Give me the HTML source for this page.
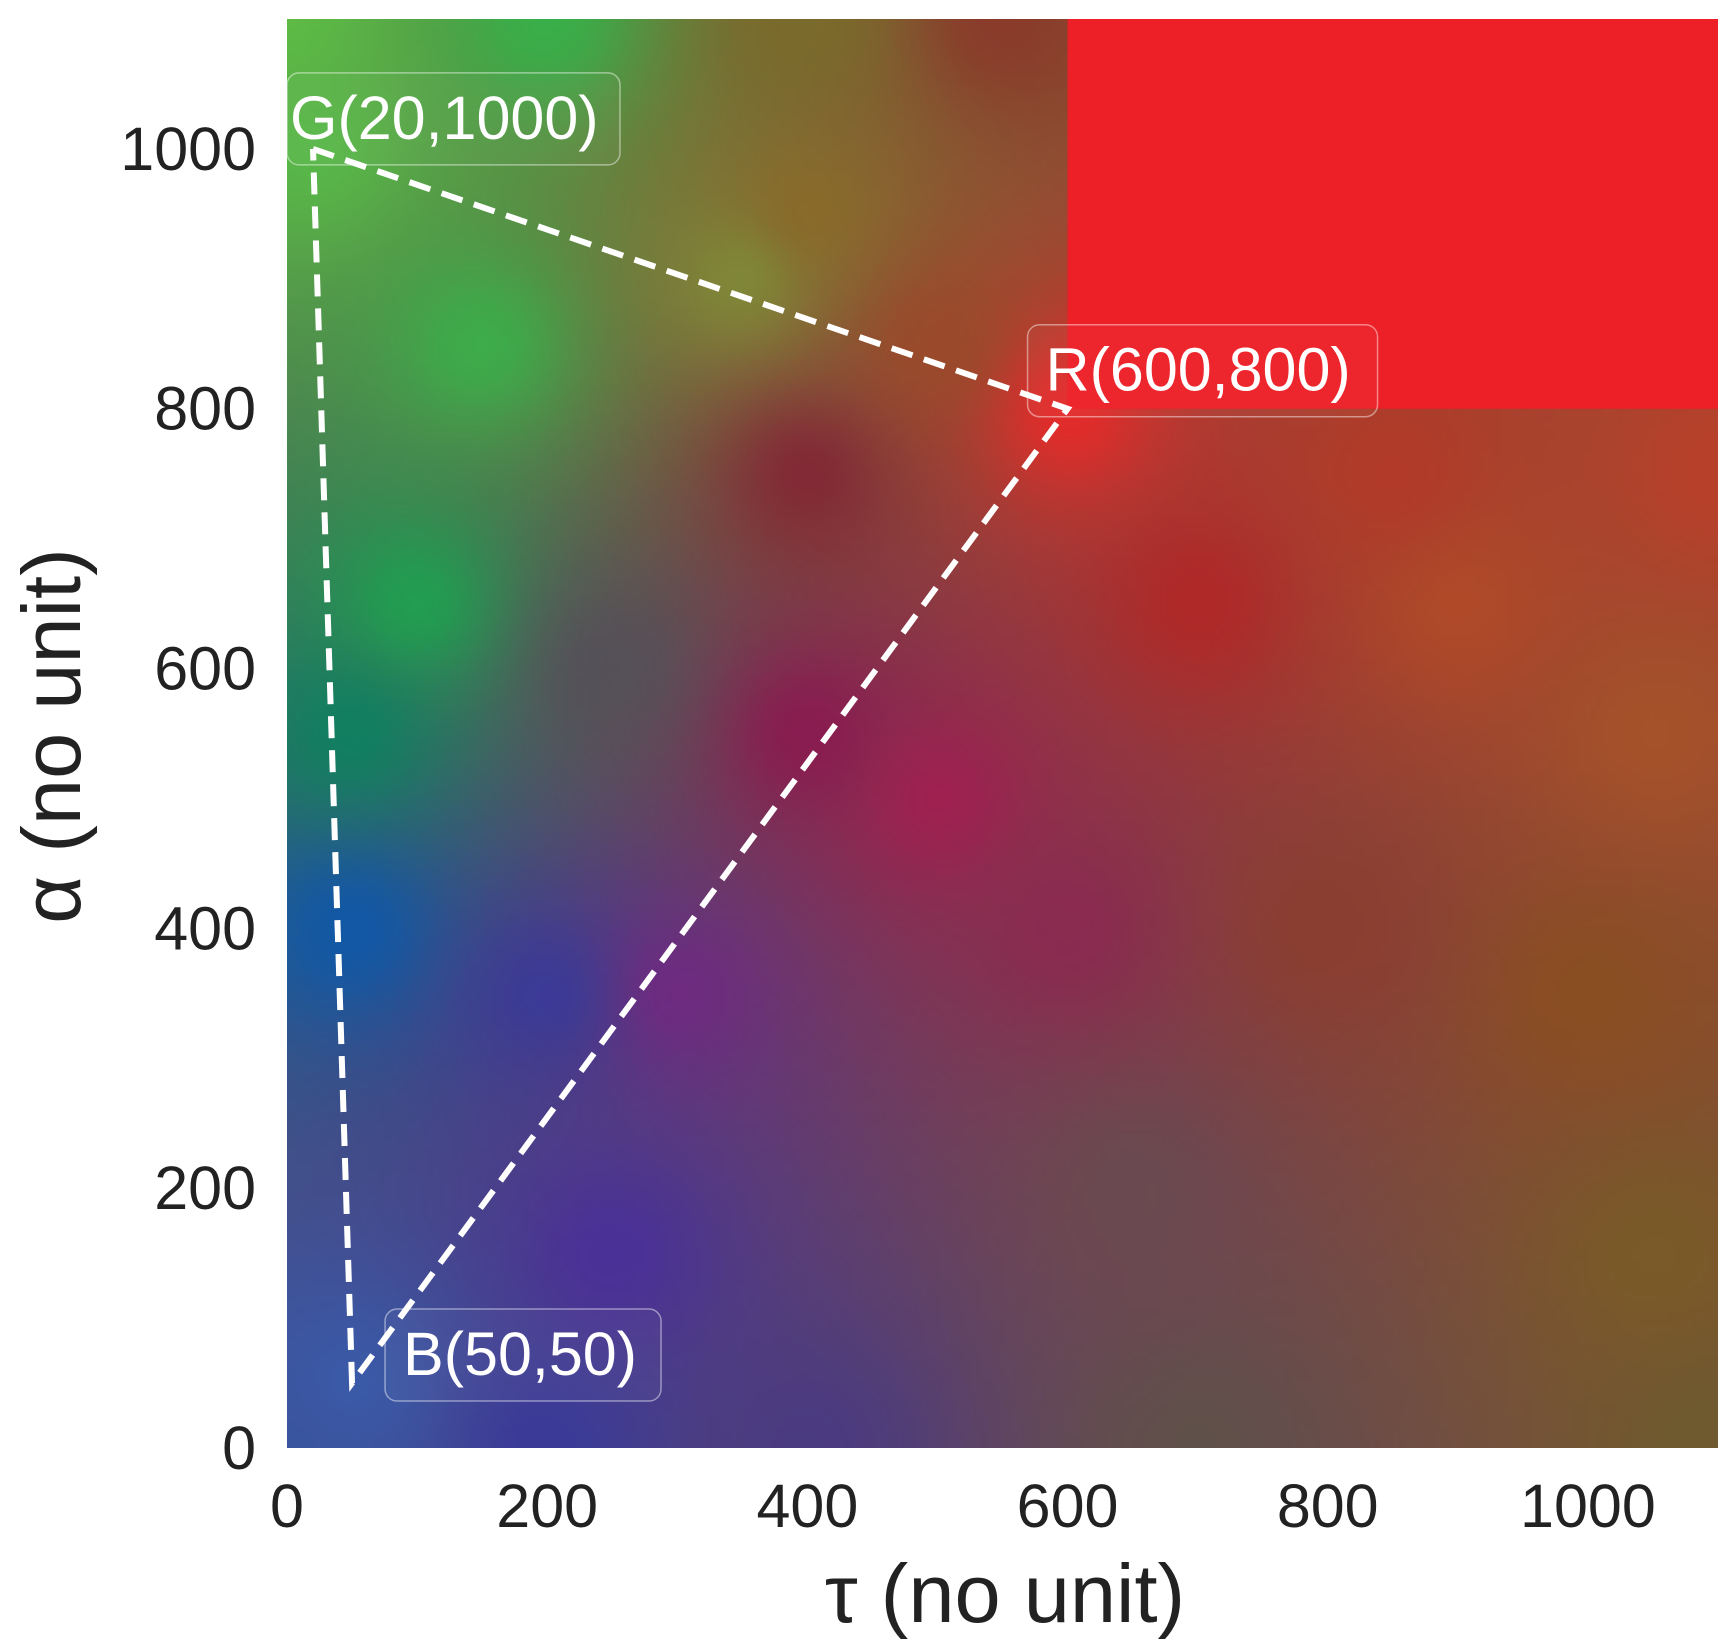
<!DOCTYPE html>
<html><head><meta charset="utf-8">
<style>
html,body{margin:0;padding:0;background:#fff;}
#wrap{position:relative;width:1736px;height:1652px;overflow:hidden;font-family:"Liberation Sans",sans-serif;}
canvas{position:absolute;}
svg{position:absolute;left:0;top:0;}
</style></head>
<body>
<div id="wrap">
<canvas id="field"></canvas>
<svg id="svg" width="1736" height="1652"></svg>
</div>
<script>
// sampled colour field (tau, alpha, colour)
const sampleTau   = [0,200,400,550,20,150,350,400,500,600,400,100,50,250,400,50,200,300,500,700,900,1050,1000,800,650,1050,1100,700,400,200,0,50,250,600,1100,850];
const sampleAlpha = [1100,1100,1100,1100,1000,850,900,950,850,800,750,650,550,600,550,400,350,350,500,650,650,550,350,400,200,150,0,0,0,0,0,50,150,400,750,750];
const sampleColor = ["#5cbb45","#38b04a","#7a6a2a","#8a3a2a","#58b848","#3cae4a","#808a38","#8a6a2a","#9a4a2a","#e82a2a","#822835","#20a050","#108060","#555058","#8a1a50","#1058a8","#3a3a98","#702a80","#a02050","#b02828","#b04a28","#a5522a","#8a4e22","#8a3e30","#6a4a50","#7a5a28","#6e5a2e","#60504a","#4a3a80","#3a3a98","#3a55a0","#3a5aa8","#4a3098","#8a2a50","#b8402a","#b23a28"];
// triangle vertices
const ptNames = ["G(20,1000)","R(600,800)","B(50,50)"];
const ptTau   = [20,600,50];
const ptAlpha = [1000,800,50];
const xTicks = [0,200,400,600,800,1000];
const yTicks = [0,200,400,600,800,1000];
// saturated red region
const redTau0 = 600, redAlpha0 = 800;

const X0=287,X1=1718,Y0=1448,Y1=19,MAX=1100;
const sx=v=>X0+v/MAX*(X1-X0);
const sy=v=>Y0-v/MAX*(Y0-Y1);
const NS="http://www.w3.org/2000/svg";
const svg=document.getElementById('svg');
function mk(tag,attrs,parent){const e=document.createElementNS(NS,tag);for(const k in attrs)e.setAttribute(k,attrs[k]);(parent||svg).appendChild(e);return e;}
function hex(c){return [parseInt(c.substr(1,2),16),parseInt(c.substr(3,2),16),parseInt(c.substr(5,2),16)];}

// field
const cv=document.getElementById('field');
const W=X1-X0,H=Y0-Y1;
cv.width=W;cv.height=H;cv.style.left=X0+'px';cv.style.top=Y1+'px';
const N=240;
const sm=document.createElement('canvas');sm.width=N;sm.height=N;
const sctx=sm.getContext('2d');const img=sctx.createImageData(N,N);
const cols=sampleColor.map(hex);
for(let j=0;j<N;j++){for(let i=0;i<N;i++){
  const t=(i+0.5)/N*MAX,a=MAX-(j+0.5)/N*MAX;
  let ws=0,r=0,g=0,b=0;
  for(let k=0;k<sampleTau.length;k++){
    const dx=t-sampleTau[k],dy=a-sampleAlpha[k];
    const w=1/Math.pow(dx*dx+dy*dy+400,1.15);
    ws+=w;r+=w*cols[k][0];g+=w*cols[k][1];b+=w*cols[k][2];
  }
  const p=(j*N+i)*4;img.data[p]=r/ws;img.data[p+1]=g/ws;img.data[p+2]=b/ws;img.data[p+3]=255;
}}
sctx.putImageData(img,0,0);
const ctx=cv.getContext('2d');ctx.imageSmoothingEnabled=true;ctx.drawImage(sm,0,0,W,H);
ctx.fillStyle="#ed1f27";
ctx.fillRect(sx(redTau0)-X0,0,X1-sx(redTau0),sy(redAlpha0)-Y1);

// triangle
const order=[0,1,2,0];
let d='';order.forEach((k,i)=>{d+=(i?'L':'M')+sx(ptTau[k])+' '+sy(ptAlpha[k])+' ';});
const tri=mk('path',{d:d,fill:'none',stroke:'#fff','stroke-width':6,'stroke-dasharray':'22 12'});



// labels
const labOff=[[3,-14],[-22,-22],[51,-12]];
const boxW=[333,350,276];
ptNames.forEach((n,k)=>{
  const tx=sx(ptTau[k])+labOff[k][0]-(k==0?20:0), ty=sy(ptAlpha[k])+labOff[k][1];
  const g=mk('g',{});
  
  
  const bx=(k==0?X0:tx-18);
  mk('rect',{x:bx,y:ty-62,width:boxW[k],height:92,rx:12,fill:'rgba(255,255,255,0.03)',stroke:'rgba(255,255,255,0.45)','stroke-width':1.5},g);
  const t=mk('text',{x:(k==0?X0+3:tx),y:ty+4,fill:'#fff','font-size':61},g);t.textContent=n;
});

// ticks
xTicks.forEach(v=>{const t=mk('text',{x:sx(v),y:1527,'text-anchor':'middle','font-size':61,fill:'#222'});t.textContent=v;
  });
yTicks.forEach(v=>{const t=mk('text',{x:256,y:sy(v)+21,'text-anchor':'end','font-size':61,fill:'#222'});t.textContent=v;
  });
const xt=mk('text',{x:1005,y:1622,'text-anchor':'middle','font-size':83,fill:'#222'});xt.textContent='τ (no unit)';

const yt=mk('text',{x:0,y:0,'text-anchor':'middle','font-size':83,fill:'#222',transform:'translate(80,736) rotate(-90)'});yt.textContent='α (no unit)';

</script>
</body></html>
